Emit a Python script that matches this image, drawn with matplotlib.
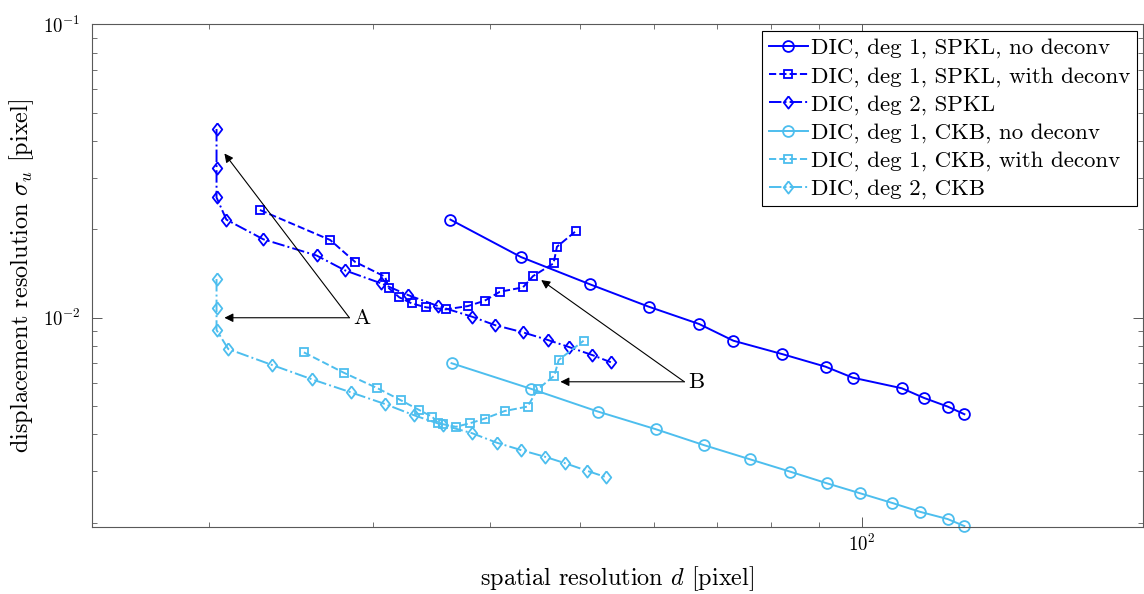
import numpy as np
import matplotlib

matplotlib.use("Agg")
import matplotlib.pyplot as plt
from matplotlib.ticker import LogLocator, FuncFormatter, NullFormatter

plt.rcParams["font.family"] = "serif"
plt.rcParams["font.serif"] = ["cmr10", "DejaVu Serif"]
plt.rcParams["mathtext.fontset"] = "cm"
plt.rcParams["axes.unicode_minus"] = False
plt.rcParams["axes.formatter.use_mathtext"] = True

# spatial resolution d [pixel] / displacement resolution sigma_u [pixel]
spkl_nodec_d = [36.3, 43.2, 51.2, 59.2, 67.0, 72.9, 82.2, 91.5, 97.8, 110.4, 116.6, 123.6, 128.8]
spkl_nodec_s = [0.0216, 0.0161, 0.0130, 0.0109, 0.00952, 0.00835, 0.00752, 0.00681,
                0.00625, 0.00575, 0.00533, 0.00498, 0.00469]

spkl_dec_d = [22.7, 27.0, 28.7, 30.9, 31.2, 32.0, 33.0, 34.2, 35.9, 37.9, 39.5, 41.0,
              43.4, 44.5, 46.8, 47.2, 49.5]
spkl_dec_s = [0.0233, 0.0184, 0.0155, 0.0138, 0.0126, 0.01174, 0.01119, 0.01085, 0.01068,
              0.01096, 0.01143, 0.01226, 0.01269, 0.01387, 0.01532, 0.01746, 0.01979]

spkl_deg2_d = [20.4, 20.4, 20.4, 20.9, 22.9, 26.1, 28.0, 30.6, 32.7, 35.2, 38.3, 40.5,
               43.4, 46.2, 48.6, 51.5, 53.9]
spkl_deg2_s = [0.0440, 0.0324, 0.0257, 0.0216, 0.0185, 0.0163, 0.0145, 0.0131, 0.01195,
               0.01096, 0.01008, 0.00944, 0.00892, 0.00839, 0.00795, 0.00746, 0.00705]

ckb_nodec_d = [36.4, 44.3, 52.2, 60.2, 67.8, 76.0, 83.8, 91.7, 99.7, 107.7, 115.5, 123.6, 128.8]
ckb_nodec_s = [0.00700, 0.00572, 0.00479, 0.00417, 0.00368, 0.00329, 0.00299, 0.00273,
               0.00252, 0.00234, 0.00218, 0.00206, 0.00195]

ckb_dec_d = [25.3, 27.9, 30.3, 32.1, 33.6, 34.7, 35.2, 35.6, 36.8, 38.1, 39.5, 41.5,
             43.9, 45.0, 46.9, 47.4, 50.4]
ckb_dec_s = [0.00762, 0.00650, 0.00576, 0.00524, 0.00485, 0.00460, 0.00439, 0.00434, 0.00425,
             0.00437, 0.00453, 0.00481, 0.00498, 0.00570, 0.00635, 0.00718, 0.00835]

ckb_deg2_d = [20.4, 20.4, 20.4, 21.0, 23.4, 25.8, 28.4, 30.9, 33.2, 35.6, 38.3, 40.7,
              43.2, 45.8, 48.2, 50.8, 53.3]
ckb_deg2_s = [0.01355, 0.01077, 0.00908, 0.00782, 0.00690, 0.00617, 0.00557, 0.00508, 0.00465,
              0.00431, 0.00404, 0.00375, 0.00354, 0.00336, 0.00319, 0.00301, 0.00286]

labels = [
    "DIC, deg 1, SPKL, no deconv",
    "DIC, deg 1, SPKL, with deconv",
    "DIC, deg 2, SPKL",
    "DIC, deg 1, CKB, no deconv",
    "DIC, deg 1, CKB, with deconv",
    "DIC, deg 2, CKB",
]

# annotation arrows: (tail, tips)
arrow_a_tail = (28.3, 0.0100)
arrow_a_tips = [(20.8, 0.0363), (20.8, 0.0100)]
arrow_b_tail = (64.6, 0.00605)
arrow_b_tips = [(45.4, 0.01344), (47.6, 0.00605)]

DARK = (0.0, 0.0, 1.0)
LIGHT = (0.301, 0.745, 0.933)
DIAMOND = [(0, 1), (0.78, 0), (0, -1), (-0.78, 0), (0, 1)]

fig = plt.figure(figsize=(11.44, 5.94), dpi=100)
ax = fig.add_axes([0.0802, 0.1133, 0.9189, 0.8457])

series = [
    (spkl_nodec_d, spkl_nodec_s, DARK, "-", "o"),
    (spkl_dec_d, spkl_dec_s, DARK, "--", "s"),
    (spkl_deg2_d, spkl_deg2_s, DARK, "-.", "dia"),
    (ckb_nodec_d, ckb_nodec_s, LIGHT, "-", "o"),
    (ckb_dec_d, ckb_dec_s, LIGHT, "--", "s"),
    (ckb_deg2_d, ckb_deg2_s, LIGHT, "-.", "dia"),
]
sizes = {"o": 7.8, "s": 6.3, "dia": 8.8}
for (d, s, color, ls, mk), lab in zip(series, labels):
    marker = DIAMOND if mk == "dia" else mk
    ax.plot(d, s, color=color, linestyle=ls, marker=marker, markersize=sizes[mk],
            markerfacecolor="none", markeredgewidth=1.3, linewidth=1.4,
            label=lab, clip_on=False)

ax.set_xscale("log")
ax.set_yscale("log")
ax.set_xlim(15, 200)
ax.set_ylim(0.00194, 0.1)

fmt = FuncFormatter(lambda v, pos: r"$\mathsf{10^{%d}}$" % int(round(np.log10(v))))
for axis in (ax.xaxis, ax.yaxis):
    axis.set_major_locator(LogLocator(base=10))
    axis.set_minor_locator(LogLocator(base=10, subs=np.arange(2, 10)))
    axis.set_major_formatter(fmt)
    axis.set_minor_formatter(NullFormatter())

ax.tick_params(which="both", direction="in", top=True, right=True, colors="0.35",
               labelcolor="black", labelsize=13.5)
ax.tick_params(which="major", length=7.5, width=0.7)
ax.tick_params(which="minor", length=3.8, width=0.6)
ax.tick_params(axis="y", pad=8)
ax.tick_params(axis="x", pad=5)
for sp in ax.spines.values():
    sp.set_color("0.35")
    sp.set_linewidth(0.8)

ax.set_xlabel(r"spatial resolution $d$ [pixel]", fontsize=17.5, labelpad=7)
ax.set_ylabel(r"displacement resolution $\sigma_u$ [pixel]", fontsize=17.5, labelpad=5)

arrow_kw = dict(arrowstyle="-|>", color="black", lw=0.8, mutation_scale=13,
                shrinkA=0, shrinkB=0)
for tip in arrow_a_tips:
    ax.annotate("", xy=tip, xytext=arrow_a_tail, arrowprops=arrow_kw)
for tip in arrow_b_tips:
    ax.annotate("", xy=tip, xytext=arrow_b_tail, arrowprops=arrow_kw)
ax.text(arrow_a_tail[0] * 1.01, arrow_a_tail[1], "A", fontsize=16.5, ha="left", va="center")
ax.text(arrow_b_tail[0] * 1.01, arrow_b_tail[1], "B", fontsize=16.5, ha="left", va="center")

leg = ax.legend(loc="upper right", bbox_to_anchor=(0.9943, 0.9867), borderaxespad=0,
                fontsize=16.5, handlelength=1.7, handletextpad=0.12, labelspacing=0.34,
                borderpad=0.3, fancybox=False, framealpha=1, edgecolor="black")
leg.get_frame().set_linewidth(0.8)

fig.savefig("out.png", dpi=100)
